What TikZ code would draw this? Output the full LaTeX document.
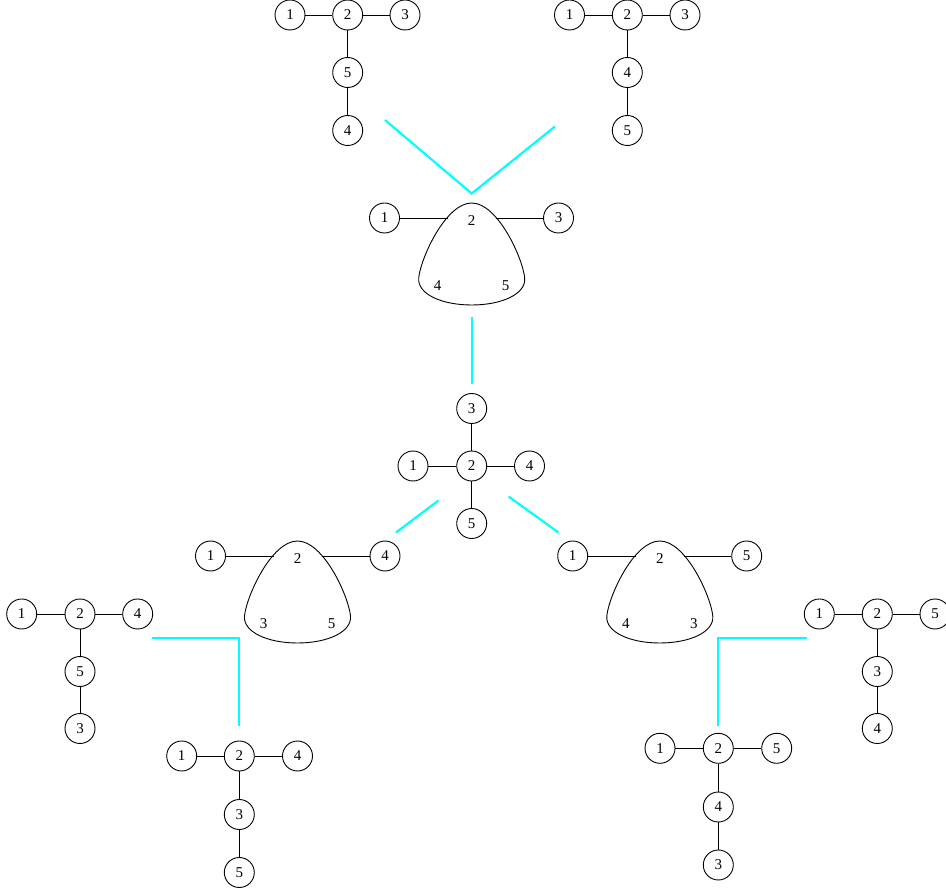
\documentclass[tikz,border=0pt]{standalone}
\usepackage{fontspec}
\setmainfont{Liberation Serif}
\definecolor{cyanline}{RGB}{0,255,255}
\begin{document}
\begin{tikzpicture}[x=1pt,y=-1pt,
  vtx/.style={circle,draw,line width=0.9pt,minimum size=30pt,inner sep=0pt,font=\fontsize{15}{18}\selectfont},
  lbl/.style={inner sep=0pt,font=\fontsize{15}{18}\selectfont},
  edge/.style={line width=0.9pt},
  link/.style={cyanline,line width=2.2pt},
  pics/rtri/.style n args={3}{code={
    \draw[edge] (0,-15) .. controls (26,-15) and (51,40) .. (53,60)
      .. controls (54.5,76) and (30,87) .. (0,87)
      .. controls (-30,87) and (-54.5,76) .. (-53,60)
      .. controls (-51,40) and (-26,-15) .. (0,-15);
    \node[lbl] (-top) at (0,3) {#1};
    \node[lbl] (-bl) at (-34,68) {#2};
    \node[lbl] (-br) at (34,68) {#3};
    \coordinate (-L) at (-24,0);
    \coordinate (-R) at (24,0);
  }}]
\useasboundingbox (0,0) rectangle (946,890);

% top-left tree
\node[vtx] (a1) at (290,15) {1};
\node[vtx] (a2) at (347.7,15) {2};
\node[vtx] (a3) at (405,15) {3};
\node[vtx] (a5) at (347.7,72.5) {5};
\node[vtx] (a4) at (347.7,130.5) {4};
\draw[edge] (a1)--(a2) (a2)--(a3) (a2)--(a5) (a5)--(a4);

% top-right tree
\node[vtx] (b1) at (569.5,15) {1};
\node[vtx] (b2) at (627.3,15) {2};
\node[vtx] (b3) at (685,15) {3};
\node[vtx] (b4) at (627.3,72.5) {4};
\node[vtx] (b5) at (627.3,130.5) {5};
\draw[edge] (b1)--(b2) (b2)--(b3) (b2)--(b4) (b4)--(b5);

% top triangle
\pic (T) at (471.7,218) {rtri={2}{4}{5}};
\node[vtx] (t1) at (384.5,218) {1};
\node[vtx] (t3) at (558.5,218) {3};
\draw[edge] (t1)--(T-L) (T-R)--(t3);

% center tree
\node[vtx] (c3) at (471.7,408.5) {3};
\node[vtx] (c2) at (471.7,466) {2};
\node[vtx] (c1) at (413,466) {1};
\node[vtx] (c4) at (529.5,466) {4};
\node[vtx] (c5) at (471.7,523.5) {5};
\draw[edge] (c3)--(c2) (c1)--(c2) (c2)--(c4) (c2)--(c5);

% left triangle
\pic (L) at (297.5,556) {rtri={2}{3}{5}};
\node[vtx] (l1) at (210.5,556) {1};
\node[vtx] (l4) at (385,556) {4};
\draw[edge] (l1)--(L-L) (L-R)--(l4);

% right triangle
\pic (R) at (659.8,556) {rtri={2}{4}{3}};
\node[vtx] (r1) at (572.7,556) {1};
\node[vtx] (r5) at (746.7,556) {5};
\draw[edge] (r1)--(R-L) (R-R)--(r5);

% far-left tree
\node[vtx] (d1) at (21.7,614) {1};
\node[vtx] (d2) at (80,614) {2};
\node[vtx] (d4) at (137.7,614) {4};
\node[vtx] (d5) at (80,671.5) {5};
\node[vtx] (d3) at (80,728.5) {3};
\draw[edge] (d1)--(d2) (d2)--(d4) (d2)--(d5) (d5)--(d3);

% bottom-left tree
\node[vtx] (e1) at (181.7,756) {1};
\node[vtx] (e2) at (239.3,756) {2};
\node[vtx] (e4) at (297.5,756) {4};
\node[vtx] (e3) at (239.3,814.5) {3};
\node[vtx] (e5) at (239.3,872.5) {5};
\draw[edge] (e1)--(e2) (e2)--(e4) (e2)--(e3) (e3)--(e5);

% far-right tree
\node[vtx] (f1) at (819.3,614) {1};
\node[vtx] (f2) at (877.3,614) {2};
\node[vtx] (f5) at (935,614) {5};
\node[vtx] (f3) at (877.3,671.5) {3};
\node[vtx] (f4) at (877.3,728.5) {4};
\draw[edge] (f1)--(f2) (f2)--(f5) (f2)--(f3) (f3)--(f4);

% bottom-right tree
\node[vtx] (g1) at (660,748.3) {1};
\node[vtx] (g2) at (718.3,748.3) {2};
\node[vtx] (g5) at (776.7,748.3) {5};
\node[vtx] (g4) at (718.3,807) {4};
\node[vtx] (g3) at (718.3,865) {3};
\draw[edge] (g1)--(g2) (g2)--(g5) (g2)--(g4) (g4)--(g3);

% cyan connectors
\coordinate (v1) at (385,120);
\coordinate (v2) at (471.7,193.5);
\coordinate (v3) at (555,126.5);
\draw[link] (v1)--(v2)--(v3);
\coordinate (w1) at (471.7,317);
\coordinate (w2) at (471.7,384);
\draw[link] (w1)--(w2);
\coordinate (x1) at (438.5,500.5);
\coordinate (x2) at (396,532.5);
\draw[link] (x1)--(x2);
\coordinate (y1) at (508.5,496.5);
\coordinate (y2) at (558.5,532.5);
\draw[link] (y1)--(y2);
\coordinate (p1) at (151.7,638);
\coordinate (p2) at (239.3,638);
\coordinate (p3) at (239.3,726);
\draw[link] (p1)--(p2)--(p3);
\coordinate (q1) at (806.7,638);
\coordinate (q2) at (718.3,638);
\coordinate (q3) at (718.3,726);
\draw[link] (q1)--(q2)--(q3);
\end{tikzpicture}
\end{document}
